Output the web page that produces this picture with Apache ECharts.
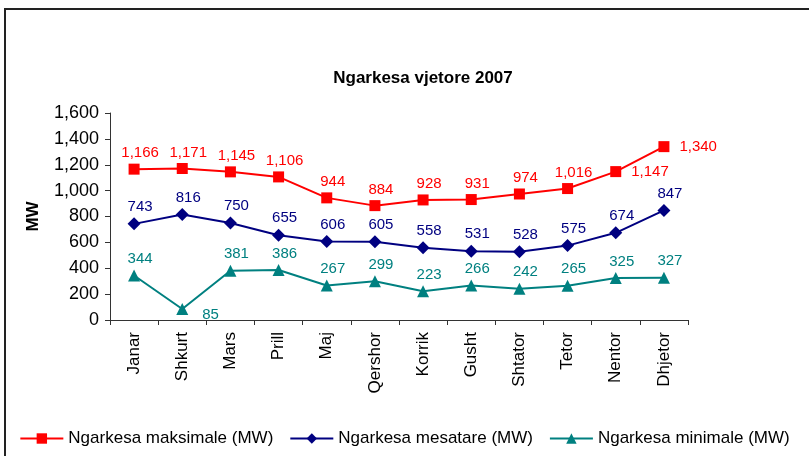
<!DOCTYPE html>
<html>
<head>
<meta charset="utf-8">
<script src="https://cdn.jsdelivr.net/npm/echarts@6/dist/echarts.min.js"></script>
<style>
html,body{margin:0;padding:0;background:#fff;}
#chart{width:809px;height:456px;}
</style>
</head>
<body>
<div id="chart"></div>
<script>
const months = ['Janar','Shkurt','Mars','Prill','Maj','Qershor','Korrik','Gusht','Shtator','Tetor','Nentor','Dhjetor'];
const maxLoad = [1166,1171,1145,1106,944,884,928,931,974,1016,1147,1340];
const avgLoad = [743,816,750,655,606,605,558,531,528,575,674,847];
const minLoad = [344,85,381,386,267,299,223,266,242,265,325,327];
const seriesNames = ['Ngarkesa maksimale (MW)','Ngarkesa mesatare (MW)','Ngarkesa minimale (MW)'];
const titleText = 'Ngarkesa vjetore 2007';
const yName = 'MW';

const FONT = "'Liberation Sans', Arial, sans-serif";
const fmt = v => Number(v).toLocaleString('en-US');

function build(values, rightIdx, rightOffset) {
  return values.map((v, i) => rightIdx.includes(i)
    ? { value: v, label: { position: 'right', distance: 10, offset: rightOffset || [0, 0] } }
    : v);
}

function mk(name, values, color, symbol, size, rightIdx, rightOffset) {
  return {
    name, type: 'line', data: build(values, rightIdx, rightOffset),
    symbol, symbolSize: size,
    itemStyle: { color },
    lineStyle: { color, width: 2 },
    label: {
      show: true, position: 'top', distance: 3, offset: [6, 0],
      color, fontSize: 15, fontFamily: FONT,
      formatter: p => fmt(p.value)
    },
    emphasis: { disabled: true }
  };
}

const chart = echarts.init(document.getElementById('chart'), null, { renderer: 'canvas' });
chart.setOption({
  animation: false,
  backgroundColor: '#fff',
  title: {
    text: titleText, left: 418, top: 65, textAlign: 'center',
    textStyle: { fontFamily: FONT, fontSize: 17, fontWeight: 'bold', color: '#000' }
  },
  graphic: [{
    type: 'rect', shape: { x: 5, y: 9, width: 900, height: 600 },
    style: { fill: null, stroke: '#222', lineWidth: 2 }, silent: true
  }],
  legend: {
    bottom: 4, left: 'center', itemWidth: 43, itemHeight: 13, itemGap: 16,
    textStyle: { fontFamily: FONT, fontSize: 17, color: '#000' }
  },
  grid: { left: 110, right: 121, top: 113, bottom: 136, outerBoundsMode: 'none' },
  xAxis: {
    type: 'category', data: months, boundaryGap: true,
    axisLine: { lineStyle: { color: '#333', width: 1 } },
    axisTick: { show: true, length: 5, lineStyle: { color: '#333' } },
    axisLabel: { rotate: 90, fontSize: 17, margin: 12, color: '#000', fontFamily: FONT, interval: 0 }
  },
  yAxis: {
    type: 'value', min: 0, max: 1600, interval: 200,
    name: yName, nameLocation: 'middle', nameGap: 68,
    nameTextStyle: { fontFamily: FONT, fontSize: 17, fontWeight: 'bold', color: '#000' },
    axisLine: { show: true, lineStyle: { color: '#333', width: 1 } },
    axisTick: { show: true, length: 5, lineStyle: { color: '#333' } },
    splitLine: { show: false },
    axisLabel: { fontSize: 18, margin: 11, color: '#000', fontFamily: FONT, formatter: v => fmt(v) }
  },
  series: [
    mk(seriesNames[0], maxLoad, '#FF0000', 'rect', 11, [10, 11]),
    mk(seriesNames[1], avgLoad, '#000080', 'diamond', 13, []),
    mk(seriesNames[2], minLoad, '#008080', 'triangle', 12, [1], [4, 6])
  ]
});
</script>
</body>
</html>
